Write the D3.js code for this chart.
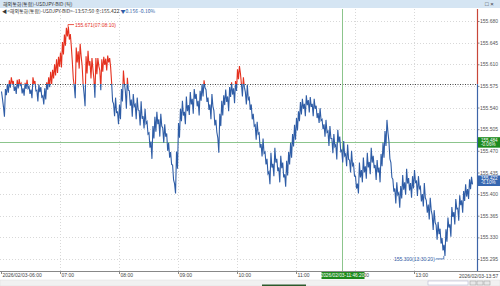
<!DOCTYPE html>
<html>
<head>
<meta charset="utf-8">
<script src="https://cdn.jsdelivr.net/npm/d3@7"></script>
<style>
body { margin: 0; background: #fff; overflow: hidden; }
svg { display: block; font-family: "Liberation Sans", Arial, sans-serif; }
</style>
</head>
<body>
<div id="chart"></div>
<script>
var width = 500, height = 286;

// chart values
var prevClose = 155.578;
var lastPrice = 155.422, lastChange = "-0.10%";
var crossPrice = 155.484, crossChange = "-0.06%", crossTime = "2026/02/03-11:46:20";
var yTicks = [155.680, 155.645, 155.610, 155.575, 155.540, 155.505, 155.470, 155.435, 155.400, 155.365, 155.330, 155.295];
var hourTicks = ["06:00", "07:00", "08:00", "09:00", "10:00", "11:00", "12:00", "13:00"];
var maxLabel = "155.671(07:08:10)", minLabel = "155.300(13:30:20)";

// 2-minute buckets from 06:00 to 13:58, tick high and low of each bucket
var highs = [
   // 06:00
   155.566, 155.541, 155.570, 155.578, 155.584, 155.589, 155.583, 155.574, 155.585, 155.586, 155.579, 155.571, 155.580, 155.585, 155.574,
   // 06:30
   155.569, 155.589, 155.583, 155.568, 155.577, 155.573, 155.559, 155.571, 155.581, 155.589, 155.598, 155.601, 155.610, 155.618, 155.622,
   // 07:00
   155.629, 155.646, 155.658, 155.669, 155.671, 155.659, 155.615, 155.575, 155.637, 155.631, 155.643, 155.608, 155.562, 155.623, 155.632,
   // 07:30
   155.615, 155.620, 155.586, 155.620, 155.620, 155.600, 155.618, 155.622, 155.619, 155.624, 155.620, 155.580, 155.546, 155.556, 155.533,
   // 08:00
   155.545, 155.570, 155.600, 155.566, 155.588, 155.567, 155.553, 155.562, 155.545, 155.556, 155.535, 155.550, 155.526, 155.538, 155.517,
   // 08:30
   155.499, 155.485, 155.510, 155.525, 155.533, 155.521, 155.530, 155.507, 155.513, 155.498, 155.483, 155.468, 155.447, 155.417, 155.469,
   // 09:00
   155.515, 155.538, 155.551, 155.533, 155.558, 155.544, 155.565, 155.554, 155.570, 155.562, 155.551, 155.567, 155.578, 155.584, 155.569,
   // 09:30
   155.556, 155.545, 155.562, 155.535, 155.520, 155.491, 155.530, 155.551, 155.560, 155.569, 155.558, 155.573, 155.581, 155.571, 155.583,
   // 10:00
   155.602, 155.607, 155.578, 155.589, 155.565, 155.577, 155.556, 155.545, 155.530, 155.512, 155.517, 155.499, 155.481, 155.490, 155.468,
   // 10:30
   155.457, 155.436, 155.467, 155.449, 155.475, 155.457, 155.443, 155.462, 155.451, 155.432, 155.454, 155.468, 155.483, 155.497, 155.512,
   // 11:00
   155.523, 155.534, 155.549, 155.554, 155.546, 155.560, 155.552, 155.557, 155.546, 155.554, 155.543, 155.531, 155.539, 155.521, 155.513,
   // 11:30
   155.520, 155.502, 155.510, 155.490, 155.497, 155.480, 155.504, 155.493, 155.471, 155.486, 155.465, 155.480, 155.455, 155.470, 155.449,
   // 12:00
   155.429, 155.417, 155.451, 155.439, 155.459, 155.445, 155.467, 155.452, 155.475, 155.462, 155.447, 155.455, 155.443, 155.465, 155.483,
   // 12:30
   155.502, 155.520, 155.485, 155.451, 155.424, 155.409, 155.419, 155.402, 155.413, 155.431, 155.419, 155.441, 155.426, 155.418, 155.429,
   // 13:00
   155.439, 155.421, 155.429, 155.412, 155.400, 155.418, 155.390, 155.383, 155.394, 155.366, 155.374, 155.350, 155.355, 155.344, 155.329,
   // 13:30
   155.318, 155.343, 155.362, 155.351, 155.379, 155.371, 155.392, 155.377, 155.398, 155.390, 155.405, 155.416, 155.408, 155.424, 155.428
];
var lows = [
   // 06:00
   155.554, 155.525, 155.560, 155.564, 155.572, 155.579, 155.567, 155.562, 155.571, 155.576, 155.563, 155.559, 155.570, 155.571, 155.562,
   // 06:30
   155.555, 155.579, 155.567, 155.550, 155.565, 155.557, 155.545, 155.553, 155.569, 155.573, 155.578, 155.587, 155.592, 155.596, 155.606,
   // 07:00
   155.605, 155.626, 155.640, 155.655, 155.650, 155.639, 155.587, 155.555, 155.613, 155.603, 155.623, 155.578, 155.542, 155.595, 155.608,
   // 07:30
   155.587, 155.602, 155.556, 155.594, 155.607, 155.568, 155.598, 155.609, 155.600, 155.613, 155.605, 155.550, 155.526, 155.532, 155.513,
   // 08:00
   155.521, 155.550, 155.579, 155.538, 155.568, 155.543, 155.525, 155.542, 155.521, 155.536, 155.511, 155.522, 155.506, 155.514, 155.497,
   // 08:30
   155.475, 155.457, 155.490, 155.501, 155.513, 155.493, 155.510, 155.483, 155.493, 155.470, 155.459, 155.448, 155.423, 155.401, 155.441,
   // 09:00
   155.491, 155.518, 155.527, 155.513, 155.534, 155.528, 155.545, 155.530, 155.554, 155.542, 155.527, 155.551, 155.558, 155.572, 155.549,
   // 09:30
   155.536, 155.521, 155.542, 155.511, 155.500, 155.467, 155.510, 155.527, 155.544, 155.549, 155.534, 155.557, 155.561, 155.547, 155.567,
   // 10:00
   155.586, 155.595, 155.558, 155.573, 155.545, 155.553, 155.536, 155.521, 155.510, 155.488, 155.497, 155.475, 155.461, 155.466, 155.448,
   // 10:30
   155.433, 155.416, 155.443, 155.429, 155.451, 155.437, 155.419, 155.442, 155.427, 155.412, 155.430, 155.448, 155.459, 155.477, 155.488,
   // 11:00
   155.503, 155.518, 155.529, 155.538, 155.526, 155.544, 155.532, 155.541, 155.526, 155.538, 155.523, 155.515, 155.519, 155.505, 155.493,
   // 11:30
   155.500, 155.478, 155.490, 155.466, 155.477, 155.456, 155.484, 155.469, 155.451, 155.462, 155.445, 155.456, 155.435, 155.446, 155.429,
   // 12:00
   155.409, 155.401, 155.427, 155.419, 155.435, 155.425, 155.443, 155.432, 155.451, 155.442, 155.423, 155.435, 155.419, 155.445, 155.459,
   // 12:30
   155.478, 155.500, 155.457, 155.427, 155.404, 155.385, 155.399, 155.378, 155.393, 155.407, 155.399, 155.417, 155.406, 155.394, 155.409,
   // 13:00
   155.419, 155.397, 155.409, 155.388, 155.380, 155.394, 155.370, 155.359, 155.374, 155.342, 155.354, 155.326, 155.335, 155.320, 155.309,
   // 13:30
   155.300, 155.323, 155.346, 155.331, 155.363, 155.351, 155.376, 155.357, 155.382, 155.370, 155.389, 155.396, 155.392, 155.408, 155.416
];

var startTime = new Date(2026, 1, 3, 6, 0, 0);
var lastTime = new Date(2026, 1, 3, 13, 57, 50);
var maxTime = new Date(2026, 1, 3, 7, 8, 10);
var minTime = new Date(2026, 1, 3, 13, 30, 20);
var crossDate = new Date(2026, 1, 3, 11, 46, 20);
function minutesAfter(d, m) { return new Date(d.getTime() + m * 60000); }
function hourDate(s) {
   var p = s.split(":");
   return new Date(2026, 1, 3, +p[0], +p[1], 0);
}

// tick path: each bucket visits its high then its low
var ticks = [];
highs.forEach(function (h, i) {
   var t0 = minutesAfter(startTime, i * 2);
   ticks.push({ t: minutesAfter(t0, 0.5), v: h });
   ticks.push({ t: minutesAfter(t0, 1.5), v: lows[i] });
});
ticks.push({ t: lastTime, v: lastPrice });

var plotLeft = 0, plotRight = 477, plotTop = 9, plotBottom = 271;

var svg = d3.select("#chart")
   .append("svg")
   .attr("width", width)
   .attr("height", height);

// scales
var x = d3.scaleTime()
   .domain([hourDate("06:00"), hourDate("14:00")])
   .range([1, 473]);

var y = d3.scaleLinear()
   .domain([155.295, 155.680])
   .range([259, 21]);

// title bar
svg.append("rect")
   .attr("x", 0).attr("y", 0)
   .attr("width", width).attr("height", 8)
   .attr("fill", "#d5e5f3");
svg.append("text")
   .attr("x", 3).attr("y", 6)
   .style("font-family", "'Noto Sans CJK KR', sans-serif")
   .style("font-size", "5px")
   .attr("fill", "#333")
   .text("해외통화(통합)-USDJPY-BID (틱)");
svg.append("text")
   .attr("x", 485).attr("y", 6.2)
   .style("font-size", "6px")
   .attr("fill", "#333")
   .text("□ ×");

// grid
var grid = svg.append("g");
grid.selectAll(".hgrid")
   .data(yTicks)
   .enter().append("line")
   .attr("x1", plotLeft).attr("x2", plotRight)
   .attr("y1", function (d) { return Math.round(y(d)) + 0.5; })
   .attr("y2", function (d) { return Math.round(y(d)) + 0.5; })
   .attr("stroke", "#d8d8d8")
   .attr("stroke-dasharray", "1,2");
grid.selectAll(".vgrid")
   .data(hourTicks.slice(1))
   .enter().append("line")
   .attr("x1", function (d) { return Math.round(x(hourDate(d))) + 0.5; })
   .attr("x2", function (d) { return Math.round(x(hourDate(d))) + 0.5; })
   .attr("y1", plotTop).attr("y2", plotBottom)
   .attr("stroke", "#d8d8d8")
   .attr("stroke-dasharray", "1,2");

// previous close dotted line
var yRef = y(prevClose);
svg.append("line")
   .attr("x1", plotLeft).attr("x2", plotRight)
   .attr("y1", Math.round(yRef) + 0.5).attr("y2", Math.round(yRef) + 0.5)
   .attr("stroke", "#444")
   .attr("stroke-dasharray", "1,1.5");

// crosshair
svg.append("line")
   .attr("x1", plotLeft).attr("x2", plotRight)
   .attr("y1", Math.round(y(crossPrice)) + 0.5).attr("y2", Math.round(y(crossPrice)) + 0.5)
   .attr("stroke", "#8cc58c");
var crossX = Math.round(x(crossDate)) + 0.5;
svg.append("line")
   .attr("x1", crossX).attr("x2", crossX)
   .attr("y1", plotTop).attr("y2", plotBottom)
   .attr("stroke", "#8cc58c");

// price line, red above previous close, blue below
var defs = svg.append("defs");
defs.append("clipPath").attr("id", "clip-up")
   .append("rect")
   .attr("x", plotLeft).attr("y", plotTop)
   .attr("width", plotRight - plotLeft).attr("height", yRef - plotTop);
defs.append("clipPath").attr("id", "clip-down")
   .append("rect")
   .attr("x", plotLeft).attr("y", yRef)
   .attr("width", plotRight - plotLeft).attr("height", plotBottom - yRef);

var line = d3.line()
   .x(function (d) { return x(d.t); })
   .y(function (d) { return y(d.v); });

svg.append("path")
   .datum(ticks)
   .attr("clip-path", "url(#clip-down)")
   .attr("fill", "none")
   .attr("stroke", "#2f5da6")
   .attr("stroke-width", 1.1)
   .attr("d", line);
svg.append("path")
   .datum(ticks)
   .attr("clip-path", "url(#clip-up)")
   .attr("fill", "none")
   .attr("stroke", "#e5311f")
   .attr("stroke-width", 1.1)
   .attr("d", line);

// max / min markers
var mx = x(maxTime), my = y(d3.max(highs));
svg.append("path")
   .attr("d", "M" + mx + "," + my + "V" + (my - 2) + "H" + (mx + 6))
   .attr("fill", "none").attr("stroke", "#e5311f").attr("stroke-width", 0.8);
svg.append("text")
   .attr("x", mx + 7).attr("y", my + 0.5)
   .style("font-size", "5px")
   .attr("fill", "#e5311f")
   .text(maxLabel);
var nx = x(minTime), ny = y(d3.min(lows));
svg.append("path")
   .attr("d", "M" + nx + "," + ny + "V" + (ny + 3) + "H" + (nx - 8))
   .attr("fill", "none").attr("stroke", "#2f5da6").attr("stroke-width", 0.8);
svg.append("text")
   .attr("x", nx - 9).attr("y", ny + 4.7)
   .attr("text-anchor", "end")
   .style("font-size", "5px")
   .attr("fill", "#2f5da6")
   .text(minLabel);

// info line
var info = svg.append("text")
   .attr("x", 2).attr("y", 12.5)
   .style("font-family", "'Noto Sans CJK KR', sans-serif")
   .style("font-size", "5px")
   .attr("fill", "#333");
info.append("tspan").text("◀<해외통화(통합)-USDJPY-BID>-13:57:50 종:155.422 ");
info.append("tspan").attr("fill", "#2f5da6").text("▼0.156  -0.10%");

// right axis
var yAxis = d3.axisRight(y)
   .tickValues(yTicks)
   .tickSize(2)
   .tickFormat(d3.format(".3f"));
var gy = svg.append("g")
   .attr("transform", "translate(" + (plotRight + 0.5) + ",0)")
   .call(yAxis);
gy.select(".domain").remove();
gy.selectAll("line").attr("stroke", "#888");
gy.selectAll("text")
   .attr("x", 2.5)
   .style("font-size", "5px")
   .attr("fill", "#555");
svg.append("line")
   .attr("x1", plotRight + 0.5).attr("x2", plotRight + 0.5)
   .attr("y1", plotTop).attr("y2", yRef)
   .attr("stroke", "#c8463a").attr("stroke-width", 1.2);
svg.append("line")
   .attr("x1", plotRight + 0.5).attr("x2", plotRight + 0.5)
   .attr("y1", yRef).attr("y2", plotBottom)
   .attr("stroke", "#3d64a8").attr("stroke-width", 1.2);

// right price boxes
function priceBox(v, pct, fill) {
   var cy = y(v);
   svg.append("rect")
      .attr("x", plotRight + 1).attr("y", cy - 5)
      .attr("width", 22).attr("height", 10.5)
      .attr("fill", fill);
   svg.append("text")
      .attr("x", plotRight + 4).attr("y", cy - 0.6)
      .style("font-size", "4.6px").attr("fill", "#fff")
      .text(d3.format(".3f")(v));
   svg.append("text")
      .attr("x", plotRight + 4).attr("y", cy + 4)
      .style("font-size", "4.6px").attr("fill", "#fff")
      .text(pct);
}
priceBox(crossPrice, crossChange, "#1d8a1d");
priceBox(lastPrice, lastChange, "#3566b0");

// bottom time axis
var xAxis = d3.axisBottom(x)
   .tickValues(hourTicks.map(hourDate))
   .tickSize(3)
   .tickFormat(function (d, i) { return i === 0 ? "2026/02/03-" + hourTicks[i] : hourTicks[i]; });
var gx = svg.append("g")
   .attr("transform", "translate(0," + plotBottom + ")")
   .call(xAxis);
gx.select(".domain").remove();
gx.selectAll("line").attr("stroke", "#888");
gx.selectAll("text")
   .attr("text-anchor", "start")
   .attr("x", 1).attr("y", 2)
   .style("font-size", "5px")
   .attr("fill", "#444");
svg.append("line")
   .attr("x1", 0).attr("x2", width)
   .attr("y1", plotBottom + 0.5).attr("y2", plotBottom + 0.5)
   .attr("stroke", "#888");
svg.append("text")
   .attr("x", 459).attr("y", plotBottom + 6.5)
   .style("font-size", "5px").attr("fill", "#444")
   .text("2026/02/03-13:57");

// crosshair time box
svg.append("rect")
   .attr("x", crossX - 21).attr("y", plotBottom + 1)
   .attr("width", 43).attr("height", 7)
   .attr("fill", "#1d8a1d");
svg.append("text")
   .attr("x", crossX).attr("y", plotBottom + 6.3)
   .attr("text-anchor", "middle")
   .style("font-size", "4.8px").attr("fill", "#fff")
   .text(crossTime);

// scroll bar strip
svg.append("rect")
   .attr("x", 0).attr("y", 280)
   .attr("width", width).attr("height", 6)
   .attr("fill", "#f1f1f1").attr("stroke", "#ddd").attr("stroke-width", 0.5);
svg.append("rect")
   .attr("x", 262).attr("y", 284.5)
   .attr("width", 44).attr("height", 1.5)
   .attr("fill", "#2c5a2c");
svg.append("rect")
   .attr("x", 428).attr("y", 281)
   .attr("width", 40).attr("height", 4)
   .attr("fill", "#fff").attr("stroke", "#aac").attr("stroke-width", 0.5);
[470, 477, 484].forEach(function (bx) {
   svg.append("rect")
      .attr("x", bx).attr("y", 281)
      .attr("width", 6).attr("height", 4)
      .attr("fill", "#e8e8e8").attr("stroke", "#999").attr("stroke-width", 0.5);
});
</script>
</body>
</html>
